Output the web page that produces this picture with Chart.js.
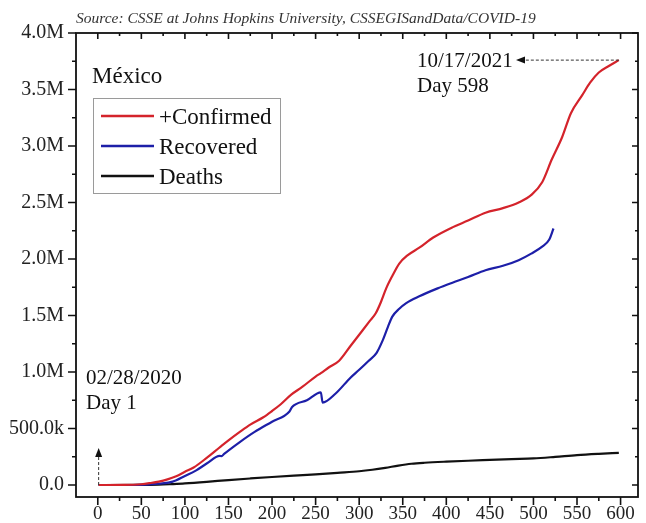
<!DOCTYPE html>
<html>
<head>
<meta charset="utf-8">
<script src="https://cdn.jsdelivr.net/npm/chart.js"></script>
<style>
  body { margin: 0; background: #fff; }
  #wrap { width: 646px; height: 523px; }
</style>
</head>
<body>
<div id="wrap"><canvas id="chart" width="646" height="523"></canvas></div>
<script>
// Day numbers and cumulative counts (Mexico)
const confirmedDays = [1, 30, 50, 60, 70, 80, 90, 100, 110, 125, 141, 150, 163, 175, 190, 200, 210, 222, 235, 250, 256, 265, 277, 290, 304, 312, 319, 325, 331, 338, 346, 355, 369, 385, 407, 425, 445, 465, 483, 498, 510, 521, 533, 543, 556, 565, 575, 587, 598];
const confirmedValues = [0, 1000, 7000, 17000, 30000, 50000, 78000, 117000, 155000, 240000, 340000, 395000, 470000, 535000, 600000, 655000, 715000, 800000, 870000, 960000, 990000, 1040000, 1100000, 1230000, 1370000, 1450000, 1520000, 1620000, 1740000, 1850000, 1960000, 2030000, 2100000, 2190000, 2280000, 2340000, 2410000, 2450000, 2500000, 2570000, 2680000, 2880000, 3080000, 3290000, 3450000, 3560000, 3650000, 3710000, 3760000];

const recoveredDays = [1, 40, 55, 70, 86, 100, 113, 125, 140, 142, 145, 163, 180, 200, 220, 223, 240, 256, 258, 273, 290, 300, 311, 320, 327, 333, 338, 346, 354, 369, 390, 407, 425, 445, 465, 483, 498, 510, 518, 523];
const recoveredValues = [0, 0, 3000, 12000, 30000, 80000, 130000, 190000, 258000, 255000, 275000, 380000, 470000, 560000, 650000, 690000, 750000, 820000, 730000, 810000, 950000, 1020000, 1100000, 1170000, 1280000, 1400000, 1490000, 1560000, 1610000, 1670000, 1740000, 1790000, 1840000, 1900000, 1940000, 1990000, 2050000, 2110000, 2170000, 2270000];

const deathDays = [1, 50, 70, 85, 100, 125, 150, 175, 200, 225, 250, 275, 300, 315, 330, 345, 360, 375, 400, 425, 450, 475, 500, 525, 550, 575, 598];
const deathValues = [0, 500, 3000, 8000, 14000, 28000, 44000, 58000, 71000, 83000, 94000, 108000, 122000, 135000, 152000, 172000, 188000, 197000, 207000, 215000, 222000, 229000, 235000, 249000, 265000, 276000, 284000];

const xTickValues = [0, 50, 100, 150, 200, 250, 300, 350, 400, 450, 500, 550, 600];
const yTickValues = [0, 500000, 1000000, 1500000, 2000000, 2500000, 3000000, 3500000, 4000000];
const yTickLabels = ['0.0', '500.0k', '1.0M', '1.5M', '2.0M', '2.5M', '3.0M', '3.5M', '4.0M'];

const seriesNames = ['+Confirmed', 'Recovered', 'Deaths'];
const seriesColors = ['#d4232b', '#1d1fa8', '#111111'];

const SERIF = "'Liberation Serif', 'DejaVu Serif', serif";

function toPoints(days, values) {
  return days.map((d, i) => ({ x: d, y: values[i] }));
}

function arrowHead(ctx, x, y, dir) {
  // filled triangle pointing in direction dir ('left' or 'up')
  ctx.beginPath();
  if (dir === 'left') {
    ctx.moveTo(x, y);
    ctx.lineTo(x + 9, y - 3.5);
    ctx.lineTo(x + 9, y + 3.5);
  } else {
    ctx.moveTo(x, y);
    ctx.lineTo(x - 3.5, y + 9);
    ctx.lineTo(x + 3.5, y + 9);
  }
  ctx.closePath();
  ctx.fill();
}

const framePlugin = {
  id: 'frame',
  afterDraw(chart) {
    const ctx = chart.ctx;
    const a = chart.chartArea;
    const xs = chart.scales.x;
    const ys = chart.scales.y;
    ctx.save();
    ctx.strokeStyle = '#111';
    ctx.fillStyle = '#111';
    ctx.lineWidth = 1.8;
    ctx.strokeRect(a.left, a.top, a.right - a.left, a.bottom - a.top);

    ctx.lineWidth = 1.6;
    ctx.beginPath();
    // x ticks (major + minor)
    xTickValues.forEach(v => {
      [[v, 8, 6], [v + 25, 4, 3]].forEach(([val, outLen, inLen]) => {
        if (val < xs.min || val > xs.max) return;
        const px = xs.getPixelForValue(val);
        ctx.moveTo(px, a.bottom);
        ctx.lineTo(px, a.bottom + outLen);
        ctx.moveTo(px, a.top);
        ctx.lineTo(px, a.top + inLen);
      });
    });
    // y ticks (major + minor)
    yTickValues.forEach(v => {
      [[v, 8, 6], [v + 250000, 4, 3]].forEach(([val, outLen, inLen]) => {
        if (val < ys.min || val > ys.max) return;
        const py = ys.getPixelForValue(val);
        ctx.moveTo(a.left, py);
        ctx.lineTo(a.left - outLen, py);
        ctx.moveTo(a.right, py);
        ctx.lineTo(a.right - inLen, py);
      });
    });
    ctx.stroke();

    // source line
    ctx.fillStyle = '#333';
    ctx.font = 'italic 15.5px ' + SERIF;
    ctx.textBaseline = 'alphabetic';
    ctx.fillText('Source: CSSE at Johns Hopkins University, CSSEGISandData/COVID-19', 76, 23);

    // country title
    ctx.fillStyle = '#111';
    ctx.font = '23px ' + SERIF;
    ctx.fillText('México', 92, 83);

    // legend box
    ctx.strokeStyle = '#9a9a9a';
    ctx.lineWidth = 1;
    ctx.strokeRect(93.5, 98.5, 187, 95);
    ctx.font = '23px ' + SERIF;
    seriesNames.forEach((name, i) => {
      const y = 116 + i * 30;
      ctx.strokeStyle = seriesColors[i];
      ctx.lineWidth = 2.4;
      ctx.beginPath();
      ctx.moveTo(101, y);
      ctx.lineTo(154, y);
      ctx.stroke();
      ctx.fillStyle = '#111';
      ctx.fillText(name, 159, y + 8);
    });

    // end annotation
    ctx.font = '21px ' + SERIF;
    ctx.fillText('10/17/2021', 417, 67);
    ctx.fillText('Day 598', 417, 92);
    const endX = xs.getPixelForValue(confirmedDays[confirmedDays.length - 1]);
    const endY = ys.getPixelForValue(confirmedValues[confirmedValues.length - 1]);
    ctx.strokeStyle = '#333';
    ctx.lineWidth = 1;
    ctx.setLineDash([3, 2]);
    ctx.beginPath();
    ctx.moveTo(endX, endY);
    ctx.lineTo(522, endY);
    ctx.stroke();
    ctx.setLineDash([]);
    ctx.fillStyle = '#111';
    arrowHead(ctx, 516, endY, 'left');

    // start annotation
    ctx.fillText('02/28/2020', 86, 384);
    ctx.fillText('Day 1', 86, 409);
    const startX = xs.getPixelForValue(confirmedDays[0]);
    const startY = ys.getPixelForValue(0);
    ctx.beginPath();
    ctx.setLineDash([3, 2]);
    ctx.moveTo(startX, startY);
    ctx.lineTo(startX, 456);
    ctx.stroke();
    ctx.setLineDash([]);
    arrowHead(ctx, startX, 448, 'up');
    ctx.restore();
  }
};

new Chart(document.getElementById('chart'), {
  type: 'line',
  data: {
    datasets: [
      { label: seriesNames[0], data: toPoints(confirmedDays, confirmedValues), borderColor: seriesColors[0] },
      { label: seriesNames[1], data: toPoints(recoveredDays, recoveredValues), borderColor: seriesColors[1] },
      { label: seriesNames[2], data: toPoints(deathDays, deathValues), borderColor: seriesColors[2] }
    ]
  },
  options: {
    responsive: false,
    animation: false,
    parsing: false,
    layout: { padding: { top: 33, right: 8, left: 0, bottom: 0 } },
    elements: {
      point: { radius: 0 },
      line: { borderWidth: 2.2, cubicInterpolationMode: 'monotone', fill: false }
    },
    plugins: {
      legend: { display: false },
      tooltip: { enabled: false }
    },
    scales: {
      x: {
        type: 'linear',
        min: -25,
        max: 620,
        grid: { display: false, drawTicks: false },
        border: { display: false },
        afterBuildTicks: s => { s.ticks = xTickValues.map(v => ({ value: v })); },
        afterFit: s => { s.height = 26; },
        ticks: {
          padding: 6,
          color: '#222',
          font: { family: SERIF, size: 19 },
          maxRotation: 0,
          callback: v => String(v)
        }
      },
      y: {
        type: 'linear',
        min: -106000,
        max: 4000000,
        grid: { display: false, drawTicks: false },
        border: { display: false },
        afterBuildTicks: s => { s.ticks = yTickValues.map(v => ({ value: v })); },
        afterFit: s => { s.width = 76; },
        ticks: {
          padding: 12,
          color: '#222',
          font: { family: SERIF, size: 20 },
          callback: (v, i) => yTickLabels[i]
        }
      }
    }
  },
  plugins: [framePlugin]
});
</script>
</body>
</html>
